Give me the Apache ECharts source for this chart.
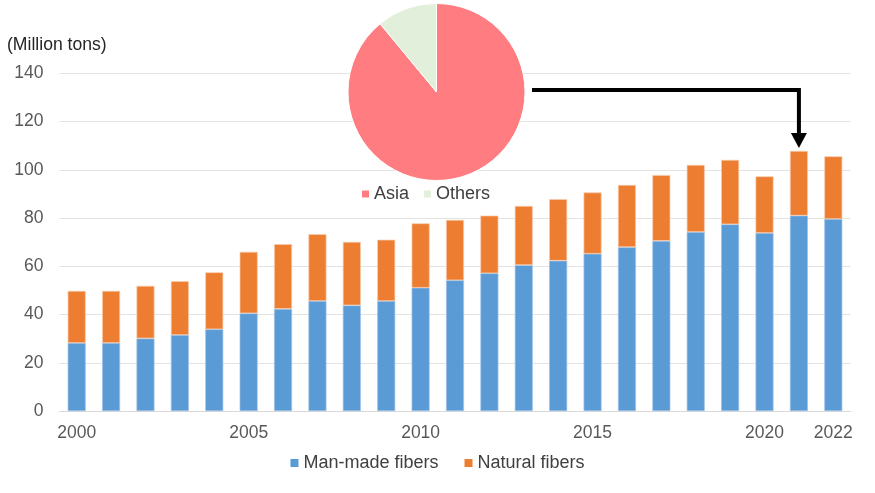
<!DOCTYPE html>
<html>
<head>
<meta charset="utf-8">
<script src="https://cdn.jsdelivr.net/npm/echarts@6/dist/echarts.min.js"></script>
<style>html,body{margin:0;padding:0;background:#fff;}#c{width:875px;height:493px;}</style>
</head>
<body>
<div id="c"></div>
<script>
const years = ['2000','2001','2002','2003','2004','2005','2006','2007','2008','2009','2010','2011','2012','2013','2014','2015','2016','2017','2018','2019','2020','2021','2022'];
const shownYears = ['2000','2005','2010','2015','2020','2022'];
const manMade = [28.2,28.2,30.1,31.5,33.9,40.5,42.3,45.6,43.8,45.6,51.1,54.2,57.1,60.5,62.3,65.2,67.9,70.5,74.2,77.4,73.8,81.0,79.6];
const natural = [21.6,21.6,21.8,22.3,23.6,25.5,26.9,27.7,26.3,25.4,26.7,25.0,23.9,24.5,25.5,25.4,25.8,27.3,27.8,26.7,23.5,26.8,26.0];
const pieLabels = ['Asia','Others'];
const pieShares = [89,11];
const yTicks = {min:0, max:140, interval:20};
const arrowYear = '2021';

const FONT = 'Liberation Sans, Arial, sans-serif';
const chart = echarts.init(document.getElementById('c'), null, {renderer:'canvas'});
const option = {
  animation:false,
  backgroundColor:'#ffffff',
  textStyle:{fontFamily:FONT},
  title:{text:'(Million tons)', left:2, top:31, textStyle:{fontFamily:FONT, fontSize:17.6, fontWeight:'normal', color:'#262626'}},
  grid:{left:59.5, right:24.5, top:73.3, bottom:82},
  legend:[
    {data:['Man-made fibers','Natural fibers'], left:'center', top:449, itemWidth:8, itemHeight:8, itemGap:26, icon:'rect',
     itemStyle:{borderWidth:0},
     textStyle:{fontFamily:FONT, fontSize:18, color:'#404040'}},
    {data:pieLabels, left:357, top:180, itemWidth:7, itemHeight:7, itemGap:15, icon:'rect',
     itemStyle:{borderWidth:0},
     textStyle:{fontFamily:FONT, fontSize:18, color:'#404040'}}
  ],
  xAxis:{type:'category', data:years,
    axisLine:{lineStyle:{color:'#d9d9d9', width:1}},
    axisTick:{show:false},
    axisLabel:{interval:(i,v)=>shownYears.includes(v), fontFamily:FONT, fontSize:17.5, color:'#595959', margin:13}
  },
  yAxis:{type:'value', min:yTicks.min, max:yTicks.max, interval:yTicks.interval,
    axisLine:{show:false}, axisTick:{show:false},
    axisLabel:{fontFamily:FONT, fontSize:17.5, color:'#595959', margin:16},
    splitLine:{lineStyle:{color:'#e3e3e3', width:1}}
  },
  series:[
    {name:'Man-made fibers', type:'bar', stack:'t', data:manMade, barWidth:18,
     itemStyle:{color:'#5B9BD5', borderColor:'#9DC3E6', borderWidth:0.7}},
    {name:'Natural fibers', type:'bar', stack:'t', data:natural, barWidth:18,
     itemStyle:{color:'#ED7D31', borderColor:'#F8CBAD', borderWidth:0.7}},
    {name:'share', type:'pie', center:[436.5,92], radius:[0,88.5], startAngle:90, clockwise:true,
     label:{show:false}, labelLine:{show:false}, z:5,
     data:pieLabels.map((n,i)=>({name:n, value:pieShares[i]})),
     itemStyle:{borderColor:'#ffffff', borderWidth:1},
     color:['#FF7C80','#E2EFDA']}
  ]
};
chart.setOption(option);

// arrow from pie to the highlighted year's bar
const idx = years.indexOf(arrowYear);
const total = manMade[idx] + natural[idx];
const ax = chart.convertToPixel({xAxisIndex:0}, arrowYear);
const tipY = chart.convertToPixel({yAxisIndex:0}, total) - 3;
const lineY = 90;
const startX = 436.5 + 88.5 + 7;
chart.setOption({graphic:[
  {type:'polyline', z:10, shape:{points:[[startX,lineY],[ax,lineY],[ax,tipY-14]]}, style:{stroke:'#000', lineWidth:4, fill:null, lineJoin:'miter'}},
  {type:'polygon', z:10, shape:{points:[[ax-8,tipY-15],[ax+8,tipY-15],[ax,tipY]]}, style:{fill:'#000'}}
]});
</script>
</body>
</html>
